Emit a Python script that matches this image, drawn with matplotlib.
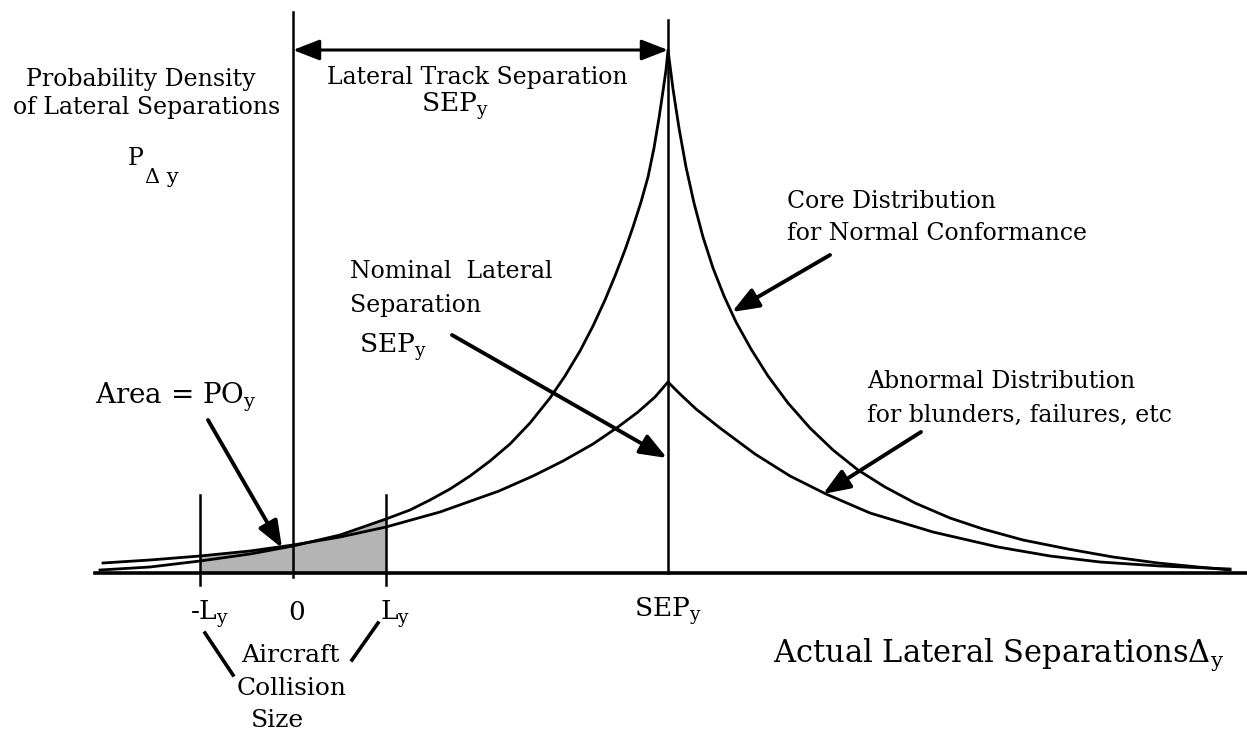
import numpy as np
import matplotlib.pyplot as plt

plt.rcParams['font.family'] = 'DejaVu Serif'
plt.rcParams['mathtext.fontset'] = 'dejavuserif'

# separations in drawing units, 0 = own track
SEP = 375
L = 93

# core distribution (normal conformance)
core_x = np.array([-193, -143, -93, -43, 0, 47, 93, 117, 137, 157, 177, 197, 217,
                   237, 257, 272, 287, 300, 312, 322, 332, 340, 348, 355, 361,
                   366, 370, 373, 375,
                   380, 386, 393, 401, 410, 420, 431, 443, 458, 475, 495, 517,
                   540, 565, 592, 622, 657, 690, 730, 775, 820, 865, 905, 937])
core_y = np.array([3, 6, 12, 19, 27, 38, 54, 63, 73, 84, 97, 112, 129,
                   150, 175, 197, 222, 247, 273, 297, 323, 346, 371, 396, 425,
                   455, 482, 503, 523,
                   484, 445, 406, 370, 336, 305, 277, 251, 224, 197, 170, 145,
                   123, 103, 86, 70, 55, 44, 33, 24, 16, 10, 6, 3])

# abnormal distribution (blunders, failures)
abn_x = np.array([-190, -143, -93, -43, 0, 47, 93, 147, 206, 240, 270, 300, 325,
                  345, 362, 375, 387, 403, 427, 462, 497, 533, 577, 640, 705,
                  757, 807, 867, 937])
abn_y = np.array([10, 13, 17, 22, 28, 36, 46, 61, 82, 97, 112, 129, 146,
                  161, 176, 191, 179, 164, 145, 119, 97, 79, 60, 41, 26,
                  17, 11, 7, 4])

fig = plt.figure(figsize=(12.47, 7.30), dpi=100)
ax = fig.add_axes([0, 0, 1, 1])
ax.set_xlim(-293, 954)
ax.set_ylim(-157, 573)
ax.axis('off')

# shaded overlap area between -L and L
sel = (core_x >= -L) & (core_x <= L)
xs = core_x[sel]
top = np.maximum(core_y[sel], abn_y[np.isin(abn_x, xs)])
ax.fill_between(xs, 0, top, color='#b4b4b4', lw=0, zorder=1)

ax.plot(core_x, core_y, color='black', lw=2.0, zorder=3)
ax.plot(abn_x, abn_y, color='black', lw=2.0, zorder=3)

# axis and reference lines
ax.plot([-198, 954], [0, 0], color='black', lw=2.6, zorder=4)
ax.plot([0, 0], [-4, 561], color='black', lw=1.8, zorder=4)
ax.plot([SEP, SEP], [0, 553], color='black', lw=1.8, zorder=4)
for xl in (-L, L):
    ax.plot([xl, xl], [-12, 78], color='black', lw=1.8, zorder=4)

akw = dict(arrowstyle='-|>,head_length=0.9,head_width=0.35', color='black',
           lw=2.8, mutation_scale=18, shrinkA=0, shrinkB=0)
ax.annotate('', xy=(SEP, 523), xytext=(0, 523),
            arrowprops=dict(akw, arrowstyle='<|-|>,head_length=0.9,head_width=0.35', lw=2.2))
ax.annotate('', xy=(-11, 25), xytext=(-85, 153), arrowprops=akw)
ax.annotate('', xy=(374, 115), xytext=(159, 238), arrowprops=akw)
ax.annotate('', xy=(439, 261), xytext=(537, 318), arrowprops=akw)
ax.annotate('', xy=(530, 79), xytext=(628, 141), arrowprops=akw)
ax.plot([-88, -60], [-60, -102], color='black', lw=2.6)
ax.plot([85, 59], [-50, -87], color='black', lw=2.6)

fs = 17
ax.text(-152, 487, 'Probability Density', fontsize=fs, ha='center')
ax.text(-146, 459, 'of Lateral Separations', fontsize=fs, ha='center')
ax.text(-165, 408, 'P', fontsize=fs)
ax.text(-148, 390, 'Δ y', fontsize=fs - 2)
ax.text(184, 489, 'Lateral Track Separation', fontsize=fs, ha='center')
ax.text(162, 461, r'SEP$_\mathrm{y}$', fontsize=fs + 2, ha='center')
ax.text(57, 295, 'Nominal  Lateral', fontsize=fs)
ax.text(57, 261, 'Separation', fontsize=fs)
ax.text(66, 220, r'SEP$_\mathrm{y}$', fontsize=fs + 2)
ax.text(494, 365, 'Core Distribution', fontsize=fs)
ax.text(494, 333, 'for Normal Conformance', fontsize=fs)
ax.text(574, 185, 'Abnormal Distribution', fontsize=fs)
ax.text(574, 151, 'for blunders, failures, etc', fontsize=fs)
ax.text(-198, 170, r'Area = PO$_\mathrm{y}$', fontsize=fs + 3)
ax.text(-103, -47, r'-L$_\mathrm{y}$', fontsize=fs + 2)
ax.text(4, -47, '0', fontsize=fs + 2, ha='center')
ax.text(87, -47, r'L$_\mathrm{y}$', fontsize=fs + 2)
ax.text(-3, -89, 'Aircraft', fontsize=fs + 1, ha='center')
ax.text(-1, -122, 'Collision', fontsize=fs + 1, ha='center')
ax.text(-16, -154, 'Size', fontsize=fs + 1, ha='center')
ax.text(375, -44, r'SEP$_\mathrm{y}$', fontsize=fs + 2, ha='center')
ax.text(480, -89, r'Actual Lateral Separations$\Delta_\mathrm{y}$', fontsize=fs + 5)

fig.savefig('out.png', dpi=100)
